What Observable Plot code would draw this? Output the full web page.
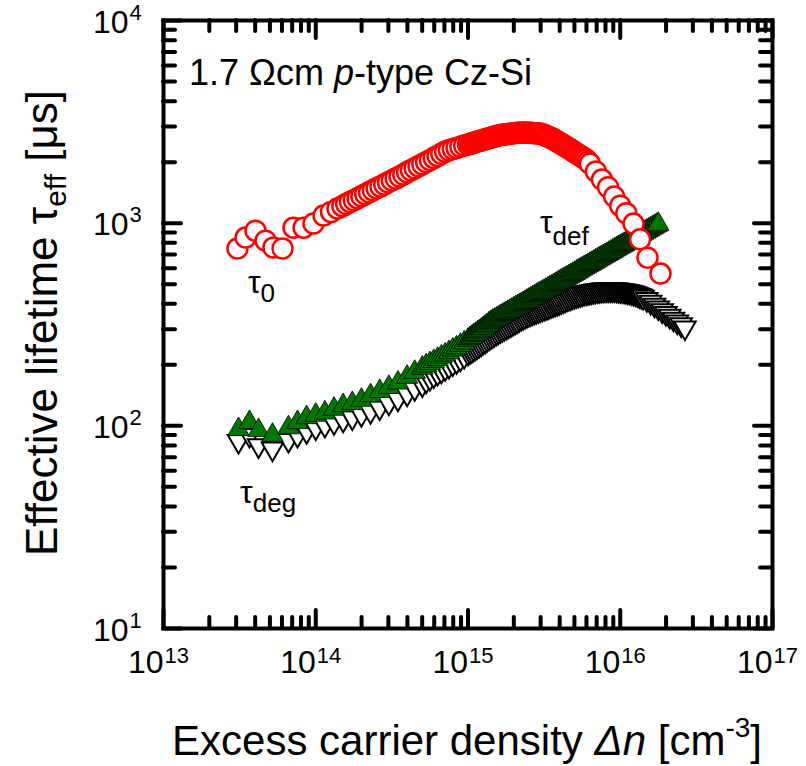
<!DOCTYPE html>
<html><head><meta charset="utf-8">
<script src="https://cdn.jsdelivr.net/npm/d3@7"></script>
<script src="https://cdn.jsdelivr.net/npm/@observablehq/plot@0.6"></script>
<style>
  html,body{margin:0;padding:0;background:#fff;}
  svg{display:block;}
</style>
</head><body><div id="chart"></div>
<script>
// ---- data (Δn in cm^-3, lifetime in µs) ----
// densely measured Δn points between 1e15 and 1.8e16 (shared by the three series)
const fineDn = [
  1.0e15,1.029e15,1.059e15,1.090e15,1.122e15,1.155e15,1.189e15,1.223e15,1.259e15,1.296e15,
  1.334e15,1.373e15,1.413e15,1.455e15,1.496e15,1.541e15,1.585e15,1.632e15,1.679e15,1.728e15,
  1.778e15,1.830e15,1.884e15,1.939e15,1.995e15,2.054e15,2.113e15,2.175e15,2.239e15,2.304e15,
  2.371e15,2.441e15,2.512e15,2.586e15,2.661e15,2.739e15,2.818e15,2.901e15,2.985e15,3.073e15,
  3.162e15,3.255e15,3.350e15,3.447e15,3.548e15,3.652e15,3.758e15,3.868e15,3.981e15,4.097e15,
  4.217e15,4.340e15,4.467e15,4.597e15,4.732e15,4.870e15,5.012e15,5.158e15,5.309e15,5.464e15,
  5.623e15,5.788e15,5.957e15,6.131e15,6.310e15,6.494e15,6.683e15,6.879e15,7.079e15,7.286e15,
  7.499e15,7.718e15,7.943e15,8.175e15,8.414e15,8.660e15,8.913e15,9.173e15,9.441e15,9.716e15,
  1.0e16,1.029e16,1.059e16,1.090e16,1.122e16,1.155e16,1.189e16,1.223e16,1.259e16,1.296e16,
  1.334e16,1.373e16,1.413e16,1.455e16,1.496e16,1.541e16,1.585e16,1.632e16,1.679e16,1.728e16,
  1.778e16];

// τ0 (red open circles)
const tau0DnLow = [3.06e13,3.46e13,4.02e13,4.68e13,5.27e13,6.05e13,7.14e13,8.32e13,9.66e13,1.125e14,1.259e14,1.39e14,
  1.496e14,1.585e14,1.679e14,1.778e14,1.884e14,1.995e14,2.113e14,2.239e14,2.371e14,2.512e14,2.661e14,2.818e14,2.985e14,
  3.162e14,3.350e14,3.548e14,3.758e14,3.981e14,4.217e14,4.467e14,4.732e14,5.012e14,5.309e14,5.623e14,5.957e14,6.310e14,
  6.683e14,7.079e14,7.499e14,7.943e14,8.414e14,8.913e14,9.441e14];
const tau0Low = [750,849,918,820,758,750,950,950,995,1090,1135,1180,
  1213,1242,1271,1298,1327,1358,1390,1419,1452,1486,1517,1552,1589,
  1626,1660,1698,1738,1782,1824,1866,1910,1954,2000,2046,2094,2143,
  2198,2249,2291,2323,2350,2382,2415];
const tau0Mid = [2443,2460,2477,2494,2512,2526,2541,2558,2576,2591,
  2606,2624,2642,2660,2679,2694,2710,2720,2729,2735,
  2742,2751,2761,2770,2780,2786,2793,2796,2799,2799,
  2799,2796,2793,2790,2786,2780,2773,2770,2767,2748,
  2729,2701,2673,2648,2624,2591,2559,2527,2495,2463,
  2432,2399,2366,2336,2307,2273,2239,2208,2178,2148,
  2118,2089,2061,2014,1968];
const tau0DnHigh = [6.918e15,7.586e15,8.318e15,9.120e15,1.0e16,1.096e16,1.222e16,1.349e16,1.51e16,1.837e16];
const tau0High = [1799,1641,1503,1352,1219,1119,995,832,676,564];

// τdef (green triangles) and τdeg (white down-triangles), low-injection part
const triDnLow = [3.11e13,3.67e13,4.21e13,5.20e13,6.62e13,7.59e13,8.71e13,1.0e14,1.148e14,1.318e14,
  1.514e14,1.738e14,1.995e14,2.291e14,2.630e14,3.020e14,3.467e14,3.981e14,4.467e14,5.012e14,
  5.309e14,5.623e14,5.957e14,6.310e14,6.683e14,7.079e14,7.499e14,7.943e14,8.414e14,8.913e14,9.441e14];
const tauDefLow = [96,104,95,90,98,104,110,113,116,121,126,129,134,141,148,155,163,174,184,193,
  198,203,208,213,219,224,230,237,243,250,257];
const tauDefHigh = [265,270,274,279,283,288,292,297,302,308,
  313,319,324,329,333,337,341,346,350,355,
  359,364,368,373,378,383,387,392,397,402,
  407,413,418,424,429,435,440,446,451,457,
  462,468,474,480,486,493,499,506,512,519,
  525,532,538,545,552,559,566,574,581,589,
  596,604,611,619,627,635,643,651,659,668,
  676,685,693,702,711,720,729,739,748,758,
  767,777,787,797,807,818,828,839,849,860,
  871,882,893,905,916,928,940,952,964,977,
  989];
const tauDegLow = [84,90,80,77,85,90,94,98,101,104,107,110,114,118,123,130,136,144,153,160,
  167,172,177,182,187,192,197,203,208,214,221];
const tauDegHigh = [229,233,236,240,243,247,251,255,259,263,
  267,272,276,280,284,288,292,296,299,303,
  307,311,315,319,323,327,331,336,340,344,
  348,352,356,359,362,365,368,372,375,378,
  381,384,387,391,394,398,401,404,407,411,
  415,419,423,427,430,434,437,440,443,446,
  449,452,454,456,458,460,462,464,466,467,
  468,469,470,470,470,470,470,470,469,468,
  467,466,464,462,460,458,455,452,449,445,
  441,437,432];
const tauDegDnTail = [1.496e16,1.585e16,1.679e16,1.778e16,1.884e16,1.995e16,2.113e16,2.239e16,2.371e16,2.512e16,2.661e16];
const tauDegTail = [421,408,395,383,371,359,348,337,326,316,305];

// assembled series
const tau0Dn = [...tau0DnLow, ...fineDn.slice(0, tau0Mid.length), ...tau0DnHigh];
const tau0 = [...tau0Low, ...tau0Mid, ...tau0High];
const tauDefDn = [...triDnLow, ...fineDn.slice(0, tauDefHigh.length)];
const tauDef = [...tauDefLow, ...tauDefHigh];
const tauDegDn = [...triDnLow, ...fineDn.slice(0, tauDegHigh.length), ...tauDegDnTail];
const tauDeg = [...tauDegLow, ...tauDegHigh, ...tauDegTail];

// axes
const xMajor = [1e13,1e14,1e15,1e16,1e17];
const xExp = ["13","14","15","16","17"];
const yMajor = [10,100,1000,10000];
const yExp = ["1","2","3","4"];
const xMinor = [13,14,15,16].flatMap(e => [2,3,4,5,6,7,8,9].map(m => m * 10 ** e));
const yMinor = [1,2,3].flatMap(e => [2,3,4,5,6,7,8,9].map(m => m * 10 ** e));

// ---- layout ----
const W = 806, H = 766, ML = 163, MR = 34, MT = 20, MB = 138;
const IW = W - ML - MR, IH = H - MT - MB;
const FONT = "Liberation Sans, Arial, Helvetica, sans-serif";
const tickStyle = {stroke: "black", strokeWidth: 4, strokeLinecap: "round"};

const plot = Plot.plot({
  width: W, height: H,
  marginLeft: ML, marginRight: MR, marginTop: MT, marginBottom: MB,
  style: {fontFamily: FONT, background: "white", color: "black"},
  x: {type: "log", domain: [1e13, 1e17], axis: null},
  y: {type: "log", domain: [10, 1e4], axis: null},
  marks: [
    Plot.tickX(xMajor, {x: d => d, insetTop: IH - 18, ...tickStyle}),
    Plot.tickX(xMajor, {x: d => d, insetBottom: IH - 18, ...tickStyle}),
    Plot.tickX(xMinor, {x: d => d, insetTop: IH - 11, ...tickStyle}),
    Plot.tickX(xMinor, {x: d => d, insetBottom: IH - 11, ...tickStyle}),
    Plot.tickY(yMajor, {y: d => d, insetRight: IW - 18, ...tickStyle}),
    Plot.tickY(yMajor, {y: d => d, insetLeft: IW - 18, ...tickStyle}),
    Plot.tickY(yMinor, {y: d => d, insetRight: IW - 12, ...tickStyle}),
    Plot.tickY(yMinor, {y: d => d, insetLeft: IW - 12, ...tickStyle}),
    Plot.frame({stroke: "black", strokeWidth: 4}),
    Plot.text(xMajor, {x: d => d, frameAnchor: "bottom", text: () => "10", textAnchor: "end", dy: 44, fontSize: 32}),
    Plot.text(xMajor, {x: d => d, frameAnchor: "bottom", text: (d, i) => xExp[i], textAnchor: "start", dx: 1, dy: 34, fontSize: 22}),
    Plot.text(yMajor, {y: d => d, frameAnchor: "left", text: () => "10", textAnchor: "end", dx: -35, dy: 2, fontSize: 32}),
    Plot.text(yMajor, {y: d => d, frameAnchor: "left", text: (d, i) => yExp[i], textAnchor: "start", dx: -34, dy: -8, fontSize: 22}),
    Plot.dot(tauDeg, {x: tauDegDn, y: d => d, symbol: "triangle", rotate: 180, r: 8, fill: "white", stroke: "black", strokeWidth: 2}),
    Plot.dot(tauDef, {x: tauDefDn, y: d => d, symbol: "triangle", r: 8, fill: "#007800", stroke: "black", strokeWidth: 0.8}),
    Plot.dot(tau0, {x: tau0Dn, y: d => d, r: 10, fill: "white", stroke: "#ff0000", strokeWidth: 2.5})
  ]
});

document.getElementById("chart").appendChild(plot);

// ---- annotations and axis titles ----
const sx = plot.scale("x"), sy = plot.scale("y");
const svg = d3.select(plot);

function label(xv, yv, base, sub, size, subSize, drop) {
  const t = svg.append("text")
    .attr("x", sx.apply(xv)).attr("y", sy.apply(yv)).attr("text-anchor", "start")
    .attr("font-family", FONT).attr("font-size", size).attr("fill", "black");
  t.append("tspan").text(base);
  t.append("tspan").attr("dy", drop).attr("font-size", subSize).text(sub);
}

const title = svg.append("text")
  .attr("x", sx.apply(1.48e13)).attr("y", sy.apply(4780)).attr("text-anchor", "start")
  .attr("font-family", FONT).attr("font-size", 36).attr("fill", "black");
title.append("tspan").text("1.7 \u03A9cm ");
title.append("tspan").attr("font-style", "italic").text("p");
title.append("tspan").text("-type Cz-Si");

label(3.61e13, 450, "\u03C4", "0", 32, 26, 9);
label(2.99e15, 889, "\u03C4", "def", 32, 26, 12);
label(3.21e13, 41.4, "\u03C4", "deg", 32, 26, 9);

const xt = svg.append("text")
  .attr("x", 467).attr("y", 755).attr("text-anchor", "middle")
  .attr("font-family", FONT).attr("font-size", 42).attr("fill", "black");
xt.append("tspan").text("Excess carrier density ");
xt.append("tspan").attr("font-style", "italic").text("\u0394n");
xt.append("tspan").text(" [cm");
xt.append("tspan").attr("dy", -18).attr("font-size", 28).text("-3");
xt.append("tspan").attr("dy", 18).text("]");

const yt = svg.append("text")
  .attr("transform", "translate(57,323) rotate(-90)").attr("text-anchor", "middle")
  .attr("font-family", FONT).attr("font-size", 44).attr("fill", "black");
yt.append("tspan").text("Effective lifetime \u03C4");
yt.append("tspan").attr("dy", 9).attr("font-size", 30).text("eff");
yt.append("tspan").attr("dy", -9).text(" [\u03BCs]");
</script>
</body></html>
